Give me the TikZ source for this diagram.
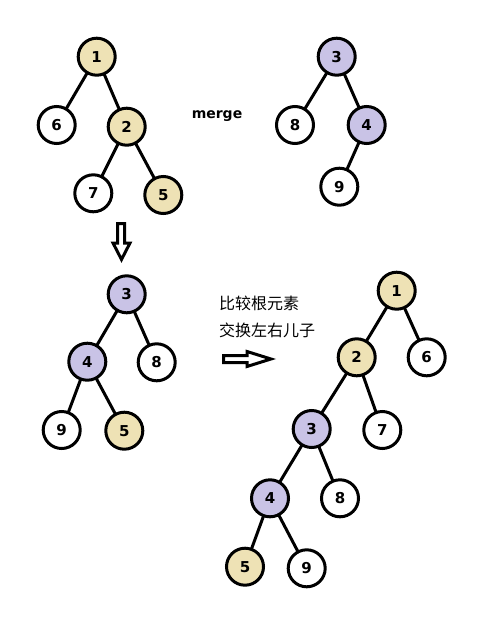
\documentclass[tikz,border=0pt]{standalone}
\usepackage{fontspec}
\setmainfont{DejaVu Sans}
\newfontfamily\cjk{Noto Sans CJK SC}
\usepackage{tikz}
\usetikzlibrary{positioning}
\tikzset{hppx/.style={x=1pt,y=-1pt,every node/.style={inner sep=0pt,outer sep=0pt,anchor=center,align=center}}}
\definecolor{hpline}{HTML}{000000}
\definecolor{hpamar}{HTML}{EEE2B5}
\definecolor{hproxo}{HTML}{C9C3E6}
\tikzset{
  no/.style={circle,draw=hpline,line width=3pt,fill=white,minimum size=37pt,font=\fontsize{15}{15}\selectfont\bfseries},
  noa/.style={no,fill=hpamar},
  nor/.style={no,fill=hproxo},
  aresta/.style={draw=hpline,line width=3pt},
  seta/.style={draw=hpline,line width=3pt,line join=miter,fill=white},
  rot/.style={font=\cjk\fontsize{16}{16}\selectfont,anchor=west},
}

\begin{document}
\begin{tikzpicture}[hppx]
  \useasboundingbox (0,0) rectangle (491,621);
  % arvore A
  \node[noa] (a1) at (96.7,56.7) {1};
  \node[no]  (a6) at (56.7,125) {6};
  \node[noa] (a2) at (126.7,126.7) {2};
  \node[no]  (a7) at (93.3,193.3) {7};
  \node[noa] (a5) at (163.3,195) {5};
  \draw[aresta] (a1) -- (a6);
  \draw[aresta] (a1) -- (a2);
  \draw[aresta] (a2) -- (a7);
  \draw[aresta] (a2) -- (a5);
  % arvore B
  \node[nor] (b3) at (336.7,56.7) {3};
  \node[no]  (b8) at (295,125) {8};
  \node[nor] (b4) at (366.7,125) {4};
  \node[no]  (b9) at (339.3,186.7) {9};
  \draw[aresta] (b3) -- (b8);
  \draw[aresta] (b3) -- (b4);
  \draw[aresta] (b4) -- (b9);
  \node[font=\fontsize{14}{14}\selectfont\bfseries] (mg) at (217,116) {merge};
  % seta para baixo
  \draw[seta] (117.5,223.5) -- (124.5,223.5) -- (124.5,243) -- (130,243) -- (121.5,259.5)
    -- (113,243) -- (117.5,243) -- cycle;
  % arvore C
  \node[nor] (c3) at (126.7,294.3) {3};
  \node[nor] (c4) at (87.3,361.7) {4};
  \node[no]  (c8) at (156.7,362.3) {8};
  \node[no]  (c9) at (61.7,430) {9};
  \node[noa] (c5) at (124.3,430.7) {5};
  \draw[aresta] (c3) -- (c4);
  \draw[aresta] (c3) -- (c8);
  \draw[aresta] (c4) -- (c9);
  \draw[aresta] (c4) -- (c5);
  % texto e seta
  \node[rot] (t1) at (219,303) {比较根元素};
  \node[rot,below=13pt of t1.south west,anchor=north west] (t2) {交换左右儿子};
  \draw[seta] (223.5,355.5) -- (247,355.5) -- (247,351.5) -- (271,359) -- (247,366.5)
    -- (247,362.5) -- (223.5,362.5) -- cycle;
  % arvore D
  \node[noa] (d1) at (396.7,290.7) {1};
  \node[noa] (d2) at (356.7,357.3) {2};
  \node[no]  (d6) at (426.7,357.3) {6};
  \node[nor] (d3) at (311.7,429) {3};
  \node[no]  (d7) at (382.3,430) {7};
  \node[nor] (d4) at (270,498.3) {4};
  \node[no]  (d8) at (340,498.3) {8};
  \node[noa] (d5) at (245,566.7) {5};
  \node[no]  (d9) at (306.7,568.3) {9};
  \draw[aresta] (d1) -- (d2);
  \draw[aresta] (d1) -- (d6);
  \draw[aresta] (d2) -- (d3);
  \draw[aresta] (d2) -- (d7);
  \draw[aresta] (d3) -- (d4);
  \draw[aresta] (d3) -- (d8);
  \draw[aresta] (d4) -- (d5);
  \draw[aresta] (d4) -- (d9);
\end{tikzpicture}
\end{document}
